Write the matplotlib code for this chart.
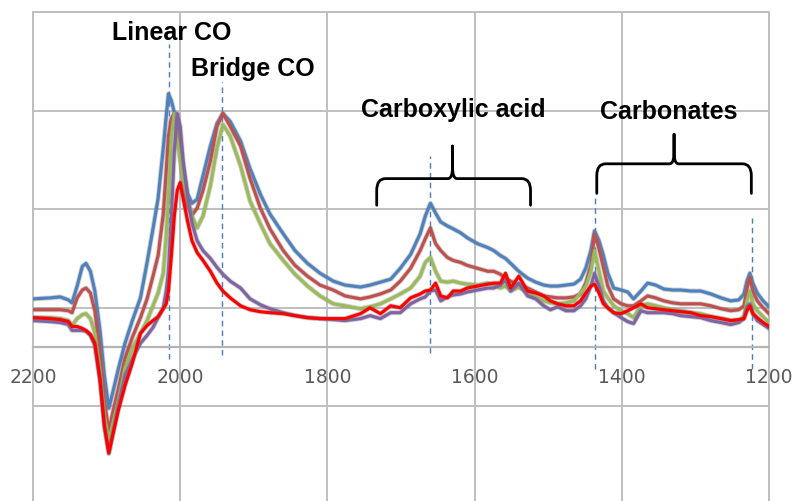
import matplotlib
matplotlib.use("Agg")
import matplotlib.pyplot as plt
import matplotlib.patheffects as pe
from matplotlib.path import Path
from matplotlib.patches import PathPatch

# Wavenumber axis (cm^-1) shared by all spectra
wavenumber = [2200, 2177, 2163, 2152, 2147, 2140, 2133, 2128, 2122, 2116,
              2109, 2103, 2097, 2091, 2084, 2075, 2065, 2054, 2045, 2037,
              2030, 2023, 2019, 2016, 2012, 2008, 2004, 2000, 1996, 1990,
              1984, 1977, 1969, 1959, 1950, 1942, 1932, 1918, 1905, 1891,
              1878, 1860, 1844, 1827, 1810, 1792, 1776, 1755, 1742, 1728,
              1714, 1701, 1687, 1674, 1667, 1660, 1653, 1646, 1637, 1629,
              1619, 1610, 1596, 1582, 1574, 1565, 1558, 1551, 1540, 1528,
              1517, 1506, 1497, 1487, 1476, 1465, 1456, 1449, 1442, 1437,
              1431, 1425, 1419, 1411, 1401, 1392, 1384, 1374, 1365, 1354,
              1343, 1331, 1320, 1306, 1293, 1279, 1265, 1252, 1241, 1234,
              1230, 1226, 1222, 1216, 1208, 1200]

# Absorbance (mAU) of the five spectra
spec_blue = [9, 10, 11, 8, 5, 22, 42, 45, 37, 17,
             -23, -69, -102, -84, -62, -36, -13, 10, 46, 80,
             111, 162, 194, 217, 210, 198, 184, 169, 144, 116,
             106, 110, 134, 164, 187, 197, 189, 169, 141, 115,
             95, 75, 58, 45, 35, 27, 23, 21, 23, 26,
             29, 40, 54, 75, 93, 106, 96, 87, 83, 80,
             76, 71, 65, 61, 58, 53, 50, 45, 37, 30,
             26, 23, 22, 22, 23, 24, 29, 40, 58, 78,
             68, 53, 35, 20, 18, 16, 9, 17, 25, 23,
             19, 18, 18, 17, 17, 14, 10, 7, 8, 14,
             27, 35, 25, 15, 7, 1]

spec_brown = [-2, -2, -2, -3, -5, 10, 18, 20, 15, -3,
              -44, -94, -125, -104, -82, -51, -30, -10, 9, 32,
              53, 95, 139, 174, 192, 197, 181, 159, 129, 103,
              94, 101, 119, 149, 184, 197, 184, 164, 131, 101,
              80, 58, 43, 32, 23, 18, 12, 9, 11, 14,
              18, 27, 40, 58, 70, 81, 65, 58, 51, 48,
              46, 43, 40, 37, 37, 34, 30, 27, 23, 20,
              16, 12, 11, 10, 10, 11, 14, 25, 43, 75,
              60, 41, 22, 9, 4, 2, 2, 7, 12, 10,
              7, 5, 4, 4, 4, 2, -1, -3, -2, 2,
              19, 31, 17, 7, 0, -6]

spec_green = [-10, -10, -11, -13, -18, -11, -7, -6, -11, -25,
              -64, -109, -135, -116, -94, -61, -41, -26, -13, 2,
              15, 35, 73, 113, 174, 197, 169, 149, 129, 110,
              93, 81, 93, 124, 162, 186, 174, 144, 108, 85,
              65, 48, 34, 22, 12, 4, 2, -1, 1, 4,
              9, 14, 20, 32, 46, 51, 37, 27, 26, 27,
              25, 24, 23, 25, 23, 20, 22, 17, 21, 15,
              11, 7, 5, 4, 5, 7, 15, 22, 37, 58,
              37, 17, 10, 2, -3, -6, -10, 2, 4, 2,
              0, -2, -3, -5, -6, -9, -11, -13, -13, -9,
              7, 17, 4, -3, -9, -15]

spec_purple = [-13, -14, -15, -17, -23, -23, -23, -24, -28, -38,
               -74, -120, -148, -125, -99, -69, -52, -36, -28, -20,
               -10, 0, 17, 37, 93, 159, 197, 184, 149, 113,
               86, 68, 58, 50, 41, 34, 27, 20, 9, 3,
               -1, -5, -8, -10, -11, -12, -13, -11, -8, -11,
               -5, -5, 4, 9, 11, 17, 18, 7, 11, 13,
               14, 16, 18, 20, 20, 23, 28, 17, 25, 12,
               9, 2, -2, 1, -3, -3, 2, 9, 22, 35,
               22, 7, 0, -5, -10, -14, -16, -3, -5, -5,
               -5, -6, -8, -9, -10, -13, -15, -17, -15, -11,
               1, 4, -5, -13, -17, -21]

spec_red = [-10, -11, -12, -14, -19, -19, -21, -23, -27, -36,
            -72, -120, -147, -127, -104, -79, -56, -26, -18, -13,
            -9, -1, 4, 17, 53, 93, 119, 127, 111, 88,
            68, 56, 48, 37, 25, 17, 10, 2, -2, -4,
            -5, -6, -8, -10, -11, -11, -11, -6, 0, -6,
            2, 0, 10, 14, 17, 18, 25, 12, 10, 17,
            17, 20, 22, 24, 25, 25, 35, 20, 32, 17,
            15, 12, 7, 4, 2, 2, 7, 15, 22, 24,
            15, 4, 0, -5, -6, -3, 0, 4, 0, -1,
            -2, -3, -4, -5, -8, -9, -11, -13, -12, -11,
            -3, 2, -6, -10, -15, -19]

series = [spec_blue, spec_brown, spec_green, spec_purple, spec_red]
colors = ["#4F81BD", "#C0504D", "#9BBB59", "#8064A2", "#FF0000"]

# Band maxima marked with dashed guides, and the vertical span of each guide
band_positions = [2015, 1943, 1660, 1437, 1223]
band_spans = [(-52, 268), (-48, 229), (-46, 154), (-62, 113), (-62, 91)]

x_ticks = [2200, 2000, 1800, 1600, 1400, 1200]

fig = plt.figure(figsize=(7.92, 5.01), dpi=100)
ax = fig.add_axes([33 / 792, 0.0, (769 - 33) / 792, (501 - 12) / 501])

ax.set_xlim(2200, 1200)
ax.set_ylim(-196, 300)

grid_c = "#BFBFBF"
ax.set_xticks(x_ticks)
ax.set_yticks([-100, 0, 100, 200, 300])
ax.grid(True, color=grid_c, linewidth=1.4)
ax.set_axisbelow(True)
ax.tick_params(axis="y", length=0, labelleft=False)
ax.tick_params(axis="x", length=0, pad=15, labelsize=13.5, labelcolor="#595959")
for lab in ax.get_xticklabels():
    lab.set_family(["Open Sans", "DejaVu Sans"])

for side in ["top", "left", "right"]:
    ax.spines[side].set_color(grid_c)
    ax.spines[side].set_linewidth(1.4)
ax.spines["bottom"].set_position(("data", -40))
ax.spines["bottom"].set_color("#B4B4B4")
ax.spines["bottom"].set_linewidth(1.6)

# Dashed guides at the band maxima
for pos, (y0, y1) in zip(band_positions, band_spans):
    ax.plot([pos, pos], [y0, y1], color="#4A7EBB", linewidth=1.0,
            linestyle=(0, (4, 3)), zorder=2)

# Spectra, drawn with a soft grey halo
for vals, c in zip(series, colors):
    ax.plot(wavenumber, vals, color=c, linewidth=2.3, zorder=3,
            solid_joinstyle="round",
            path_effects=[pe.Stroke(linewidth=3.6, foreground="#808080", alpha=0.35),
                          pe.Normal()])


def brace(x_left, x_right, x_mid, y_end, y_bar, y_tip, rx=12, ry=12, rc=6):
    s = 1 if x_right > x_left else -1
    verts = [
        (x_left, y_end),
        (x_left, y_bar - ry),
        (x_left, y_bar), (x_left + s * rx, y_bar),
        (x_mid - s * rc, y_bar),
        (x_mid, y_bar), (x_mid, y_bar + ry),
        (x_mid, y_tip),
        (x_mid, y_bar + ry),
        (x_mid, y_bar), (x_mid + s * rc, y_bar),
        (x_right - s * rx, y_bar),
        (x_right, y_bar), (x_right, y_bar - ry),
        (x_right, y_end),
    ]
    codes = [Path.MOVETO, Path.LINETO, Path.CURVE3, Path.CURVE3, Path.LINETO,
             Path.CURVE3, Path.CURVE3, Path.LINETO, Path.LINETO,
             Path.CURVE3, Path.CURVE3, Path.LINETO,
             Path.CURVE3, Path.CURVE3, Path.LINETO]
    ax.add_patch(PathPatch(Path(verts, codes), fill=False, edgecolor="black",
                           linewidth=2.0, capstyle="round", joinstyle="round",
                           zorder=4))


brace(1733, 1524, 1630, 104, 131, 164)
brace(1434, 1224, 1329, 116, 146, 176)

label_font = dict(family=["Liberation Sans", "DejaVu Sans"], fontsize=18,
                  fontweight="bold", ha="center", va="center", color="black",
                  zorder=5)
ax.text(2012, 279, "Linear CO", **label_font)
ax.text(1902, 242, "Bridge CO", **label_font)
ax.text(1629, 201, "Carboxylic acid", **label_font)
ax.text(1336, 199, "Carbonates", **label_font)

fig.savefig("out.png", dpi=100)
